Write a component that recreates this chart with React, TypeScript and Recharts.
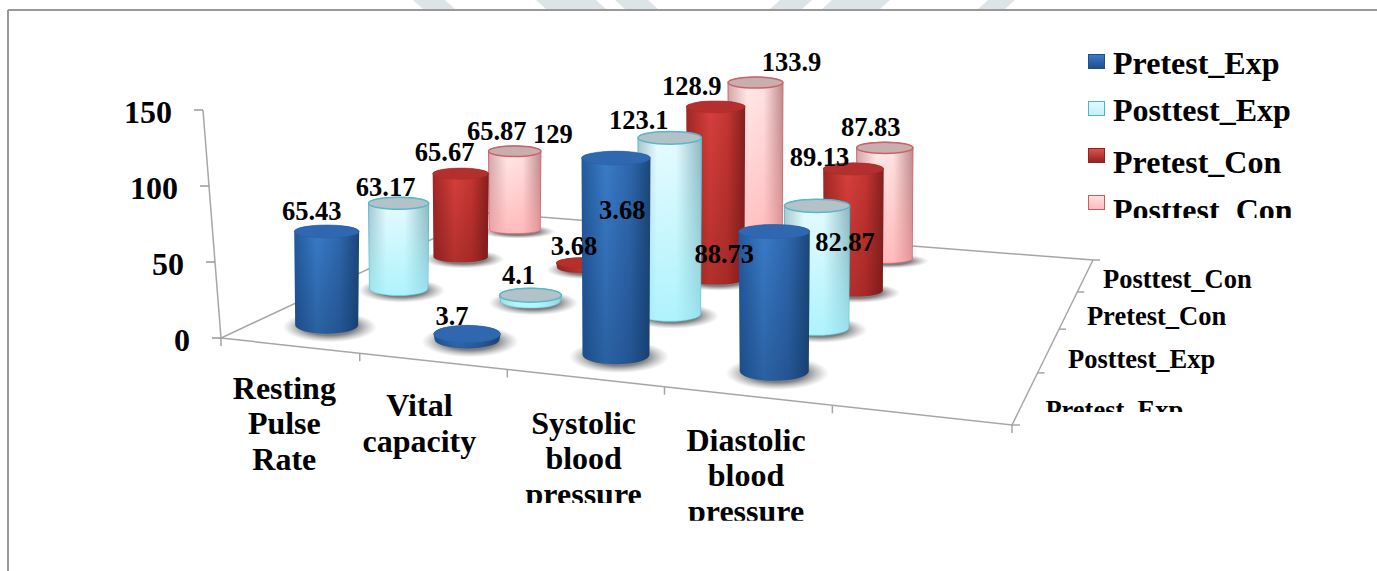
import { Bar, ComposedChart, XAxis, YAxis } from "recharts";

const categories = ["Resting Pulse Rate", "Vital capacity", "Systolic blood pressure", "Diastolic blood pressure", ""];
const seriesNames = ["Pretest_Exp", "Posttest_Exp", "Pretest_Con", "Posttest_Con"];
const pretestExp = [65.43, 3.7, 129, 88.73, null];
const posttestExp = [63.17, 4.1, 123.1, 82.87, null];
const pretestCon = [65.67, 3.68, 128.9, 89.13, null];
const posttestCon = [65.87, 3.68, 133.9, 87.83, null];
const yTicks = [0, 50, 100, 150];

const rows = categories.map((name, i) => ({
  name,
  Pretest_Exp: pretestExp[i],
  Posttest_Exp: posttestExp[i],
  Pretest_Con: pretestCon[i],
  Posttest_Con: posttestCon[i],
}));

const FONT = "'Liberation Serif', 'Times New Roman', serif";
const WIDTH = 1377;
const HEIGHT = 571;
const PLOT_LEFT = 221;
const PLOT_RIGHT = 1012;
const PLOT_TOP = 110;
const PLOT_BOTTOM = 338;

// floor corners on screen: front left, front right, back right, back left
const FLOOR = [
  [221, 338],
  [1012, 425],
  [1093, 260],
  [488, 213],
];

const [[x0, y0], [x1, y1], [x2, y2], [x3, y3]] = FLOOR;
const sx = x0 - x1 + x2 - x3;
const sy = y0 - y1 + y2 - y3;
const det = (x1 - x2) * (y3 - y2) - (x3 - x2) * (y1 - y2);
const g = (sx * (y3 - y2) - (x3 - x2) * sy) / det;
const h = ((x1 - x2) * sy - sx * (y1 - y2)) / det;

function project(u: number, v: number) {
  const w = g * u + h * v + 1;
  return {
    x: ((x1 - x0 + g * x1) * u + (x3 - x0 + h * x3) * v + x0) / w,
    y: ((y1 - y0 + g * y1) * u + (y3 - y0 + h * y3) * v + y0) / w,
    s: 1 / w,
  };
}

const toU = (px: number) => (px - PLOT_LEFT) / (PLOT_RIGHT - PLOT_LEFT);
const depthOf = (seriesIndex: number) => (seriesIndex + 0.5) / seriesNames.length;

const SKINS = [
  { id: "blue", top: "#2f68b0", rim: "#2a5fa0" },
  { id: "cyan", top: "#b2c2c6", rim: "#56b8cc" },
  { id: "red", top: "#b4302e", rim: "#a52a28" },
  { id: "pink", top: "#c9aeb0", rim: "#c86468" },
];

// where each value label sits relative to the top of its cylinder
const LABEL_SHIFT = [
  [[-15, -20], [-15, -18], [-63, -24], [-50, 22]],
  [[-13, -16], [-12, -20], [-31, -18], [28, 36]],
  [[-16, -22], [-11, -17], [-24, -21], [-34, -12]],
  [[-18, -20], [-10, -24], [36, -21], [-14, -21]],
];
// category label nudges: [dx, dy]
const CATEGORY_SHIFT = [[-5, 2], [-13, 4], [-1, 5], [-1, 4], [0, 0]];

function cylinderGeometry(props: any, seriesIndex: number) {
  const u = toU(props.x + props.width / 2);
  const v = depthOf(seriesIndex);
  const base = project(u, v);
  const r = 33.3 * base.s;
  const ryBase = r * (0.29 - 0.16 * v);
  const ryTop = ryBase + (r * 0.2 - ryBase) * Math.min(1, props.height / 40);
  const bodyHeight = props.height * (0.95 + 0.17 * u - 0.2 * v - 0.1 * u * v);
  return { cx: base.x + (u - 0.4) * 10, baseY: base.y, r, ryBase, ryTop, topY: base.y - bodyHeight };
}

function Cylinder(props: any, seriesIndex: number) {
  if (!props.height || props.height <= 0) return <g />;
  const { cx, baseY, r, ryBase, ryTop, topY } = cylinderGeometry(props, seriesIndex);
  const skin = SKINS[seriesIndex];
  const body = `M${cx - r},${topY} L${cx - r * 0.97},${baseY} A${r * 0.97},${ryBase} 0 0 0 ${cx + r * 0.97},${baseY} L${cx + r},${topY} A${r},${ryTop} 0 0 0 ${cx - r},${topY} Z`;
  return (
    <g>
      <ellipse cx={cx + 3} cy={baseY + 2} rx={r * 1.45} ry={ryBase * 1.75} fill="url(#floorShadow)" />
      <path d={body} fill={`url(#body-${skin.id})`} stroke={seriesIndex % 2 ? skin.rim : "none"} strokeWidth={1} />
      <path d={body} fill={`url(#fade-${skin.id})`} />
      <ellipse cx={cx} cy={topY} rx={r} ry={ryTop} fill={skin.top} stroke={skin.rim} strokeWidth={seriesIndex % 2 ? 1.5 : 0.5} />
    </g>
  );
}

function ValueLabel(props: any, seriesIndex: number) {
  if (!props.height || props.height <= 0) return <g />;
  const { cx, topY } = cylinderGeometry(props, seriesIndex);
  const value = props.payload[seriesNames[seriesIndex]];
  const [dx, dy] = LABEL_SHIFT[seriesIndex][props.index];
  return (
    <text x={cx + dx} y={topY + dy + 9} textAnchor="middle" fontFamily={FONT} fontWeight="bold" fontSize={26.5} fill="#000">
      {value}
    </text>
  );
}

function YTick({ y, payload }: any) {
  const lean = ((PLOT_BOTTOM - y) / (PLOT_BOTTOM - PLOT_TOP)) * 18;
  const ax = PLOT_LEFT - lean;
  return (
    <g>
      <line x1={ax - 9} x2={ax} y1={y} y2={y} stroke="#9a9a9a" strokeWidth={1.5} />
      <text x={ax - 31} y={y + 13} textAnchor="end" fontFamily={FONT} fontWeight="bold" fontSize={32} fill="#000">
        {payload.value}
      </text>
    </g>
  );
}

function CategoryTick({ x, payload, index }: any) {
  const words = String(payload.value).split(" ").filter(Boolean);
  const edge = project(toU(x), 0);
  const [dx, dy] = CATEGORY_SHIFT[index];
  const cx = edge.x + dx;
  const top = edge.y + 51;
  return (
    <g clipPath={`url(#tick-clip-${index})`}>
      <clipPath id={`tick-clip-${index}`}>
        <rect x={cx - 120} y={top - 40} width={240} height={114} />
      </clipPath>
      {words.map((word, i) => (
        <text key={word} x={cx} y={top + dy + i * 35.5} textAnchor="middle" fontFamily={FONT} fontWeight="bold" fontSize={32} fill="#000">
          {word}
        </text>
      ))}
    </g>
  );
}

function Floor() {
  const frontTicks = categories.map((_, i) => project((i + 1) / categories.length, 0));
  const depthTicks = seriesNames.map((_, i) => project(1, (i + 1) / seriesNames.length));
  return (
    <g>
      <polyline
        points={`${x3},${y3} ${x0},${y0} ${x1},${y1} ${x2},${y2} ${x3},${y3}`}
        fill="none"
        stroke="#a6a6a6"
        strokeWidth={1.5}
      />
      <line x1={PLOT_LEFT} y1={PLOT_BOTTOM} x2={PLOT_LEFT - 18} y2={PLOT_TOP} stroke="#a6a6a6" strokeWidth={1.5} />
      <line x1={PLOT_LEFT} y1={PLOT_BOTTOM} x2={PLOT_LEFT} y2={PLOT_BOTTOM + 8} stroke="#a6a6a6" strokeWidth={1.5} />
      {frontTicks.map((p, i) => (
        <line key={i} x1={p.x} y1={p.y} x2={p.x} y2={p.y + 8} stroke="#a6a6a6" strokeWidth={1.5} />
      ))}
      <line x1={x1} y1={y1} x2={x1 + 8} y2={y1} stroke="#a6a6a6" strokeWidth={1.5} />
      {depthTicks.map((p, i) => (
        <line key={i} x1={p.x} y1={p.y} x2={p.x + 7} y2={p.y} stroke="#a6a6a6" strokeWidth={1.5} />
      ))}
      <clipPath id="depth-clip">
        <rect x={1000} y={255} width={300} height={157} />
      </clipPath>
      <g clipPath="url(#depth-clip)">
        {seriesNames.map((name, i) => {
          const p = project(1, depthOf(i));
          return (
            <text key={name} x={p.x + 20 - i * 0.8} y={p.y + 21 - i * 2.7} fontFamily={FONT} fontWeight="bold" fontSize={26.5} fill="#000">
              {name}
            </text>
          );
        })}
      </g>
    </g>
  );
}

function Backdrop() {
  return (
    <g>
      {[
        [418, 450, 5],
        [541, 601, 5],
        [620, 653, 5],
        [775, 807, -5],
        [827, 885, -5],
        [983, 1010, -5],
      ].map(([a, b, lean]) => (
        <polygon key={a} points={`${a - lean},0 ${b - lean},0 ${b + lean},9 ${a + lean},9`} fill="#dde4e8" />
      ))}
      <line x1={8} y1={10} x2={WIDTH} y2={10} stroke="#999" strokeWidth={2} />
      <line x1={8} y1={10} x2={8} y2={HEIGHT} stroke="#999" strokeWidth={2} />
    </g>
  );
}

function Gradients() {
  const side = (id: string, stops: [number, string][]) => (
    <linearGradient id={id} x1="0" x2="1" y1="0" y2="0">
      {stops.map(([o, c]) => (
        <stop key={o} offset={o} stopColor={c} />
      ))}
    </linearGradient>
  );
  const fade = (id: string, color: string, from: number, to: number) => (
    <linearGradient id={id} x1="0" x2="0" y1="0" y2="1">
      <stop offset={0} stopColor={color} stopOpacity={from} />
      <stop offset={1} stopColor={color} stopOpacity={to} />
    </linearGradient>
  );
  return (
    <defs>
      {side("body-blue", [[0, "#235a9e"], [0.35, "#3a7cc8"], [0.7, "#2f68b0"], [1, "#1b4777"]])}
      {side("body-cyan", [[0, "#a9c4cc"], [0.3, "#e8fbff"], [0.6, "#e6fbff"], [1, "#8fb4bd"]])}
      {side("body-red", [[0, "#a02826"], [0.4, "#d8403c"], [0.7, "#c53632"], [1, "#84201e"]])}
      {side("body-pink", [[0, "#d0a8aa"], [0.35, "#ffeaea"], [0.65, "#ffe4e4"], [1, "#b98a8c"]])}
      {fade("fade-blue", "#0e2f5c", 0, 0.35)}
      {fade("fade-cyan", "#9cf0fb", 0, 0.75)}
      {fade("fade-red", "#6a1210", 0, 0.35)}
      {fade("fade-pink", "#ff9da0", 0, 0.6)}
      <radialGradient id="floorShadow">
        <stop offset={0.55} stopColor="#555" stopOpacity={0.75} />
        <stop offset={1} stopColor="#888" stopOpacity={0} />
      </radialGradient>
    </defs>
  );
}

const MARKER_COLORS = [
  ["#3a7cc8", "#1f4f8c", "#1f4f8c"],
  ["#e0f8ff", "#c4f0fb", "#4fb4cc"],
  ["#e0504c", "#8e2422", "#8e2422"],
  ["#ffe0e0", "#ffbcbc", "#cc5a5e"],
];
const LEGEND_TOPS = [54, 100.5, 147.5, 195];
const LEGEND_BASELINES = [73, 120, 172, 220];

function LegendBox() {
  return (
    <div style={{ position: "absolute", left: 1088, top: 44, width: 280, height: 174, overflow: "hidden", fontFamily: FONT, fontWeight: "bold", fontSize: 32, color: "#000" }}>
      {seriesNames.map((name, i) => (
        <div key={name}>
          <div
            style={{
              position: "absolute",
              left: 0,
              top: LEGEND_TOPS[i] - 44,
              width: 15,
              height: 13,
              border: `1.5px solid ${MARKER_COLORS[i][2]}`,
              background: `linear-gradient(${MARKER_COLORS[i][0]}, ${MARKER_COLORS[i][1]})`,
            }}
          />
          <div style={{ position: "absolute", left: 25, top: LEGEND_BASELINES[i] - 44 - 28, lineHeight: "36px", whiteSpace: "nowrap" }}>
            {name}
          </div>
        </div>
      ))}
    </div>
  );
}

const BAR = 40;

export default function App() {
  const order = [3, 2, 1, 0];
  return (
    <div style={{ position: "absolute", left: 0, top: 0, width: WIDTH, height: HEIGHT, background: "#fff" }}>
      <ComposedChart
        width={WIDTH}
        height={HEIGHT}
        data={rows}
        barSize={BAR}
        barGap={-BAR}
        margin={{ top: PLOT_TOP, right: WIDTH - PLOT_RIGHT, bottom: 0, left: 0 }}
      >
        <Gradients />
        <Backdrop />
        <Floor />
        <XAxis dataKey="name" axisLine={false} tickLine={false} interval={0} height={HEIGHT - PLOT_BOTTOM} tick={<CategoryTick />} />
        <YAxis domain={[0, 150]} ticks={yTicks} axisLine={false} tickLine={false} width={PLOT_LEFT} tick={<YTick />} />
        {order.map((s) => (
          <Bar
            key={seriesNames[s]}
            dataKey={seriesNames[s]}
            isAnimationActive={false}
            shape={(props: any) => Cylinder(props, s)}
          />
        ))}
        {order.map((s) => (
          <Bar
            key={`${seriesNames[s]}-label`}
            dataKey={seriesNames[s]}
            isAnimationActive={false}
            shape={(props: any) => ValueLabel(props, s)}
          />
        ))}
      </ComposedChart>
      <LegendBox />
    </div>
  );
}
